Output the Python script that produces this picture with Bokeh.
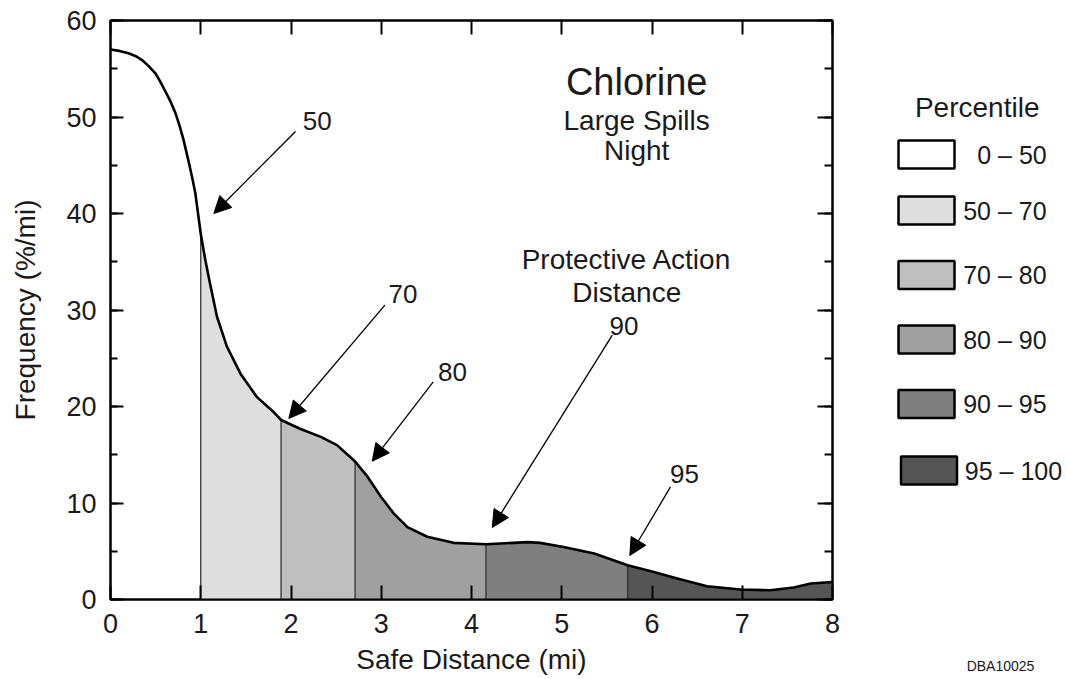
from bokeh.plotting import figure
from bokeh.layouts import row
from bokeh.models import (Range1d, SingleIntervalTicker, FixedTicker, LinearAxis, Label,
                          Arrow, NormalHead, ColumnDataSource)
from bokeh.embed import file_html
from bokeh.resources import INLINE

# ---------------- data ----------------
dist = [0.0, 0.1, 0.2, 0.28, 0.35, 0.42, 0.5, 0.55, 0.6, 0.66, 0.72, 0.765, 0.81,
        0.845, 0.88, 0.91, 0.94, 0.98, 1.0, 1.05, 1.11, 1.18, 1.29, 1.44, 1.62,
        1.81, 1.89, 2.1, 2.33, 2.51, 2.71, 2.85, 3.0, 3.14, 3.29, 3.51, 3.8, 4.16,
        4.47, 4.62, 4.76, 5.02, 5.36, 5.73, 6.0, 6.28, 6.61, 6.98, 7.31, 7.57, 7.76,
        8.0]
freq = [57.0, 56.85, 56.6, 56.3, 55.9, 55.3, 54.5, 53.7, 52.8, 51.7, 50.4, 49.1,
        47.6, 46.2, 44.8, 43.5, 42.1, 39.3, 37.9, 35.2, 32.4, 29.3, 26.2, 23.4,
        21.0, 19.4, 18.6, 17.7, 16.85, 16.0, 14.3, 12.7, 10.6, 8.9, 7.5, 6.5, 5.87,
        5.73, 5.87, 5.95, 5.87, 5.45, 4.77, 3.55, 2.9, 2.18, 1.38, 1.04, 0.96, 1.24,
        1.66, 1.82]

band_edges = [0.0, 1.0, 1.89, 2.71, 4.16, 5.73, 8.0]
band_labels = ["0 \u2013 50", "50 \u2013 70", "70 \u2013 80", "80 \u2013 90",
               "90 \u2013 95", "95 \u2013 100"]
band_colors = ["#ffffff", "#dedede", "#bfbfbf", "#a0a0a0", "#7f7f7f", "#555555"]

marker_labels = ["50", "70", "80", "90", "95"]

FONT = "Liberation Sans"
INK = "#1a1a1a"

# ---------------- main chart ----------------
p = figure(width=842, height=677, output_backend="svg", toolbar_location=None,
           x_range=Range1d(0, 8), y_range=Range1d(0, 60), title=None,
           min_border_left=110, min_border_top=20, min_border_right=10,
           min_border_bottom=78, background_fill_color="white",
           border_fill_color="white", x_axis_location=None, y_axis_location=None)
p.grid.visible = False
p.outline_line_color = "black"
p.outline_line_width = 2

# bands
for i in range(1, len(band_edges) - 1):
    b0, b1 = band_edges[i], band_edges[i + 1]
    xs = [x for x in dist if b0 <= x <= b1]
    ys = [y for x, y in zip(dist, freq) if b0 <= x <= b1]
    p.varea(x=xs, y1=[0] * len(xs), y2=ys, fill_color=band_colors[i])

# boundary lines
bx = band_edges[1:-1]
by = [freq[dist.index(b)] for b in bx]
p.segment(x0=bx, y0=[0] * len(bx), x1=bx, y1=by, line_color="#333333", line_width=1.3)

# curve
p.line(dist, freq, line_color="black", line_width=2.6, line_join="round")

def axis_style(ax, labels=True):
    ax.axis_line_width = 2
    ax.axis_line_color = "black"
    ax.major_tick_line_width = 2
    ax.minor_tick_line_width = 2
    ax.major_tick_line_color = "black"
    ax.minor_tick_line_color = "black"
    ax.major_tick_out = 0
    ax.minor_tick_out = 0
    ax.major_label_text_font = FONT
    ax.major_label_text_color = INK
    ax.major_label_text_font_size = "27px"
    ax.axis_label_text_font = FONT
    ax.axis_label_text_font_style = "normal"
    ax.axis_label_text_color = INK
    ax.axis_label_text_font_size = "28px"
    if not labels:
        ax.major_label_overrides = {t: "" for t in range(0, 61)}
        ax.major_label_standoff = 0

xb = LinearAxis(ticker=SingleIntervalTicker(interval=1, num_minor_ticks=0),
                axis_label="Safe Distance (mi)")
axis_style(xb)
xb.major_tick_in = 14
xb.major_label_standoff = 14
xb.axis_label_standoff = 8
p.add_layout(xb, "below")

yl = LinearAxis(ticker=SingleIntervalTicker(interval=10, num_minor_ticks=2),
                axis_label="Frequency (%/mi)")
axis_style(yl)
yl.major_tick_in = 13
yl.minor_tick_in = 7
yl.major_label_standoff = 14
yl.axis_label_standoff = 22
p.add_layout(yl, "left")

xt = LinearAxis(ticker=SingleIntervalTicker(interval=1, num_minor_ticks=0))
axis_style(xt, labels=False)
xt.major_tick_in = 14
p.add_layout(xt, "above")

yr = LinearAxis(ticker=SingleIntervalTicker(interval=10, num_minor_ticks=2))
axis_style(yr, labels=False)
yr.major_tick_in = 15
yr.minor_tick_in = 8
p.add_layout(yr, "right")

# titles inside the plot
def lab(fig, x, y, text, size, align="center"):
    fig.add_layout(Label(x=x, y=y, text=text, text_font=FONT, text_font_size=size,
                         text_color=INK, text_align=align, text_baseline="middle"))

lab(p, 5.83, 53.6, "Chlorine", "38px")
lab(p, 5.83, 49.6, "Large Spills", "28px")
lab(p, 5.83, 46.5, "Night", "28px")
lab(p, 5.72, 35.2, "Protective Action", "28px")
lab(p, 5.72, 31.8, "Distance", "28px")

# percentile markers with arrows
arrow_start = [(2.05, 48.5), (3.04, 30.5), (3.576, 22.55), (5.56, 27.4), (6.205, 11.67)]
arrow_end = [(1.145, 40.0), (1.976, 18.76), (2.90, 14.33), (4.23, 7.46), (5.754, 4.56)]
label_pos = [(2.29, 49.6), (3.24, 31.7), (3.79, 23.6), (5.69, 28.3), (6.36, 13.0)]
for t, s, e, lp in zip(marker_labels, arrow_start, arrow_end, label_pos):
    p.add_layout(Arrow(x_start=s[0], y_start=s[1], x_end=e[0], y_end=e[1],
                       line_width=1.3, line_color="black",
                       end=NormalHead(size=17, fill_color="black", line_color="black",
                                      line_width=1)))
    lab(p, lp[0], lp[1], t, "26px")

# ---------------- legend panel ----------------
# frame of this panel is aligned with the chart frame (window px 20..599)
lg = figure(width=220, height=677, output_backend="svg", toolbar_location=None,
            x_range=Range1d(842, 1062), y_range=Range1d(599, 20), title=None,
            min_border_left=0, min_border_right=0, min_border_top=20,
            min_border_bottom=78, x_axis_location=None, y_axis_location=None,
            background_fill_color="white", border_fill_color="white")
lg.grid.visible = False
lg.outline_line_color = None

row_y = [154, 210, 274.5, 339, 403.5, 470]
box_x = [926, 926, 926, 926, 926, 928.5]
text_x = [976.7, 962.7, 962.7, 962.7, 962.7, 964.3]
src = ColumnDataSource(dict(x=box_x, y=row_y, c=band_colors, tx=text_x, t=band_labels))
lg.rect(x="x", y="y", width=56, height=28, fill_color="c", line_color="black",
        line_width=2.5, source=src)
lg.text(x="tx", y="y", text="t", text_font={"value": FONT}, text_font_size={"value": "25px"},
        text_color=INK, text_baseline="middle", text_align="left", source=src)
lab(lg, 976.7, 106.7, "Percentile", "28px")

# drawing id, shown below the legend panel as a lone axis label
id_axis = LinearAxis(ticker=FixedTicker(ticks=[1000]),
                     major_label_overrides={1000: "DBA10025"})
id_axis.axis_line_color = None
id_axis.major_tick_line_color = None
id_axis.minor_tick_line_color = None
id_axis.major_label_text_font = FONT
id_axis.major_label_text_font_size = "14px"
id_axis.major_label_text_color = INK
id_axis.major_label_standoff = 52
lg.add_layout(id_axis, "below")

layout = row(p, lg)
open("out.html", "w").write(file_html(layout, INLINE))
